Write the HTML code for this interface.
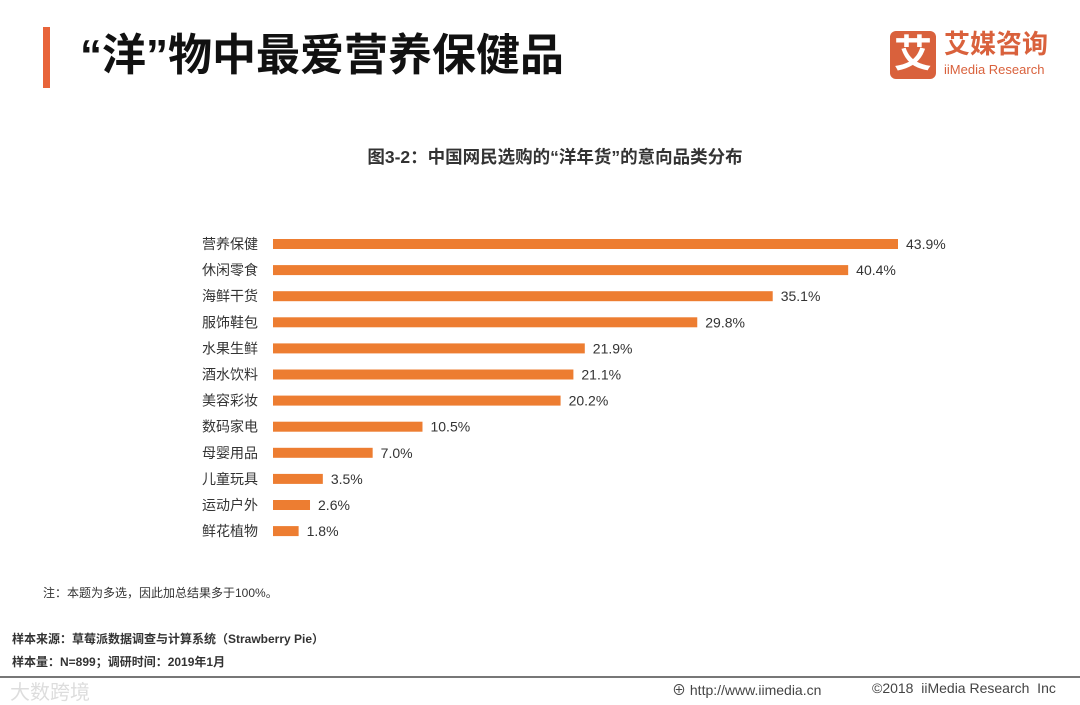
<!DOCTYPE html>
<html><head><meta charset="utf-8">
<style>
body{margin:0;width:1080px;height:702px;background:#fff;position:relative;overflow:hidden;font-family:"Liberation Sans","Noto Sans CJK SC",sans-serif;}
.abs{position:absolute;}
</style></head><body>
<div class="abs" style="left:43px;top:27px;width:7px;height:61px;background:#e8643a"></div>
<div class="abs" style="left:80px;top:30px;font-size:44px;font-weight:bold;color:#111;line-height:52px">“洋”物中最爱营养保健品</div>
<div class="abs" style="left:890px;top:31px;width:46px;height:48px;background:#d9613c;border-radius:6px;color:#fff;font-size:38px;font-weight:bold;text-align:center;line-height:48px">艾</div>
<div class="abs" style="left:944px;top:28px;font-size:26px;font-weight:bold;color:#d9613c;line-height:32px">艾媒咨询</div>
<div class="abs" style="left:944px;top:62px;font-size:13px;color:#d9613c">iiMedia Research</div>
<div class="abs" style="left:0;width:1110px;top:144px;text-align:center;font-size:17.5px;font-weight:bold;color:#333">图3-2：中国网民选购的“洋年货”的意向品类分布</div>
<svg class="abs" style="left:0;top:0" width="1080" height="702" id="chart"></svg>
<div class="abs" style="left:43px;top:584px;font-size:12px;color:#333">注：本题为多选，因此加总结果多于100%。</div>
<div class="abs" style="left:12px;top:630px;font-size:12px;color:#333;font-weight:bold">样本来源：草莓派数据调查与计算系统（Strawberry Pie）</div>
<div class="abs" style="left:12px;top:653px;font-size:12px;color:#333;font-weight:bold">样本量：N=899；调研时间：2019年1月</div>
<div class="abs" style="left:0;top:676px;width:1080px;height:2px;background:#777"></div>
<div class="abs" style="left:10px;top:676px;font-size:20px;color:#ddd">大数跨境</div>
<div class="abs" style="left:672px;top:680px;font-size:14px;color:#444">⊕ http://www.iimedia.cn</div>
<div class="abs" style="left:872px;top:680px;font-size:14px;color:#444">©2018&nbsp; iiMedia Research&nbsp; Inc</div>
<script>
const categories=["营养保健","休闲零食","海鲜干货","服饰鞋包","水果生鲜","酒水饮料","美容彩妆","数码家电","母婴用品","儿童玩具","运动户外","鲜花植物"];
const values=[43.9,40.4,35.1,29.8,21.9,21.1,20.2,10.5,7.0,3.5,2.6,1.8];
const svg=document.getElementById('chart');
const NS='http://www.w3.org/2000/svg';
const x0=273,scale=625/43.9,y0=244,step=26.1,bh=10;
const xs=v=>x0+v*scale, ys=i=>y0+i*step;
categories.forEach((c,i)=>{
 const r=document.createElementNS(NS,'rect');
 r.setAttribute('x',x0);r.setAttribute('y',ys(i)-bh/2);r.setAttribute('width',xs(values[i])-x0);r.setAttribute('height',bh);r.setAttribute('fill','#ed7d31');
 
 
 svg.appendChild(r);
 const t=document.createElementNS(NS,'text');
 t.setAttribute('x',258);t.setAttribute('y',ys(i)+5);t.setAttribute('text-anchor','end');t.setAttribute('font-size','14');t.setAttribute('fill','#333');
 t.textContent=c;
 
 
 svg.appendChild(t);
 const v=document.createElementNS(NS,'text');
 v.setAttribute('x',xs(values[i])+8);v.setAttribute('y',ys(i)+5);v.setAttribute('font-size','14');v.setAttribute('fill','#333');
 v.textContent=values[i].toFixed(1)+'%';
 
 
 svg.appendChild(v);
});
</script>
</body></html>
